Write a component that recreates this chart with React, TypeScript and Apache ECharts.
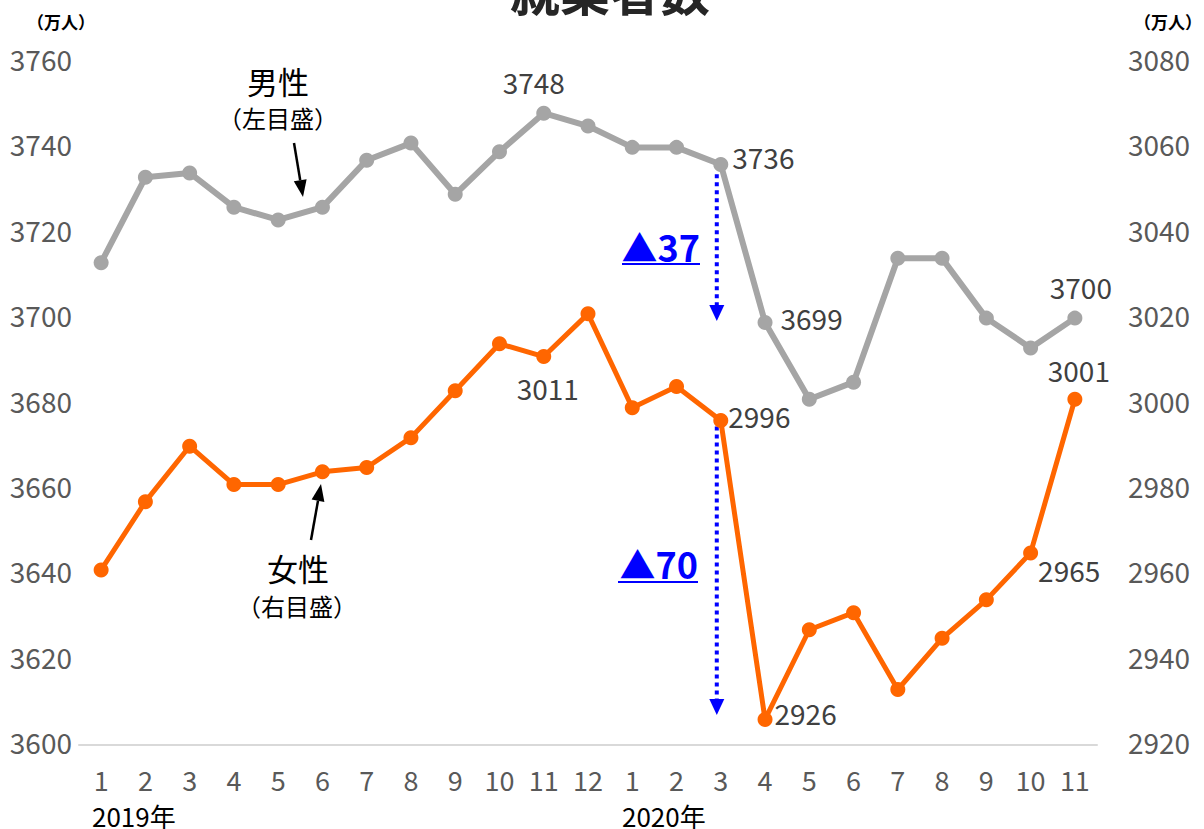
import React, { useEffect, useRef } from 'react';
import * as echarts from 'echarts';

const FONT = '"Noto Sans CJK JP", "Noto Sans", sans-serif';

const categories = ['1', '2', '3', '4', '5', '6', '7', '8', '9', '10', '11', '12', '1', '2', '3', '4', '5', '6', '7', '8', '9', '10', '11'];
const maleValues = [3713, 3733, 3734, 3726, 3723, 3726, 3737, 3741, 3729, 3739, 3748, 3745, 3740, 3740, 3736, 3699, 3681, 3685, 3714, 3714, 3700, 3693, 3700];
const femaleValues = [2961, 2977, 2990, 2981, 2981, 2984, 2985, 2992, 3003, 3014, 3011, 3021, 2999, 3004, 2996, 2926, 2947, 2951, 2933, 2945, 2954, 2965, 3001];
const leftAxisRange = [3600, 3760];
const rightAxisRange = [2920, 3080];
const axisStep = 20;
const yearLabels = ['2019年', '2020年'];
const changeLabels = ['▲37', '▲70'];
// drop annotations: [category index, from value, to value]
const maleDrop = [14, 3733.7, 3699.3];
const femaleDrop = [14, 2994.6, 2927];

const maleLabelPlacement: Record<number, any> = {
  10: { position: 'top', distance: 10, offset: [-10, 0] },
  14: { position: 'right', distance: 4, offset: [0, -7] },
  15: { position: 'right', distance: 8, offset: [0, -4] },
  22: { position: 'top', distance: 10, offset: [6, 0] },
};
const femaleLabelPlacement: Record<number, any> = {
  10: { position: 'bottom', distance: 10, offset: [4, 0] },
  14: { position: 'right', distance: 0, offset: [0, -5] },
  15: { position: 'right', distance: 2, offset: [0, -6] },
  21: { position: 'right', distance: 0, offset: [0, 17] },
  22: { position: 'top', distance: 8, offset: [4, 0] },
};

function withLabels(values: number[], placement: Record<number, any>) {
  return values.map((v, i) =>
    placement[i]
      ? {
          value: v,
          label: {
            show: true,
            ...placement[i],
            color: '#404040',
            fontSize: 28,
            fontFamily: FONT,
          },
        }
      : v
  );
}

function arrowLine(x1: number, y1: number, x2: number, y2: number, color: string, width: number, hl: number, hw: number, dash?: number[]) {
  const dx = x2 - x1;
  const dy = y2 - y1;
  const len = Math.sqrt(dx * dx + dy * dy);
  const ux = dx / len;
  const uy = dy / len;
  const bx = x2 - ux * hl;
  const by = y2 - uy * hl;
  return [
    {
      type: 'line',
      shape: { x1, y1, x2: bx, y2: by },
      style: { stroke: color, lineWidth: width, lineDash: dash || null, lineCap: 'butt' },
    },
    {
      type: 'polygon',
      shape: { points: [[x2, y2], [bx - uy * hw, by + ux * hw], [bx + uy * hw, by - ux * hw]] },
      style: { fill: color },
    },
  ];
}

export default function App() {
  const ref = useRef<HTMLDivElement>(null);
  useEffect(() => {
    const chart = echarts.init(ref.current!, null, { renderer: 'svg' });
    const axisLabelBase = {
      color: '#595959',
      fontSize: 28,
      fontFamily: FONT,
      formatter: (v: number) => String(v),
      verticalAlign: 'bottom',
      lineHeight: 6,
    };
    const baseGraphics: any[] = [
      {
        type: 'text',
        style: { text: '就業者数', x: 610, y: -11, textAlign: 'center', textVerticalAlign: 'middle', fontSize: 50, fontWeight: 'bold', fontFamily: FONT, fill: '#262626' },
      },
      {
        type: 'text',
        style: { text: '（万人）', x: 61, y: 21, textAlign: 'center', textVerticalAlign: 'middle', fontSize: 17, fontWeight: 'bold', fontFamily: FONT, fill: '#000' },
      },
      {
        type: 'text',
        style: { text: '（万人）', x: 1168, y: 21, textAlign: 'center', textVerticalAlign: 'middle', fontSize: 17, fontWeight: 'bold', fontFamily: FONT, fill: '#000' },
      },
      {
        type: 'text',
        style: { text: yearLabels[0], x: 92, y: 815, textAlign: 'left', textVerticalAlign: 'middle', fontSize: 26, fontFamily: FONT, fill: '#000' },
      },
      {
        type: 'text',
        style: { text: yearLabels[1], x: 622, y: 815, textAlign: 'left', textVerticalAlign: 'middle', fontSize: 26, fontFamily: FONT, fill: '#000' },
      },
      {
        type: 'text',
        style: { text: '男性', x: 278, y: 80, textAlign: 'center', textVerticalAlign: 'middle', fontSize: 31, fontFamily: FONT, fill: '#000' },
      },
      {
        type: 'text',
        style: { text: '（左目盛）', x: 278, y: 117, textAlign: 'center', textVerticalAlign: 'middle', fontSize: 24, fontFamily: FONT, fill: '#000' },
      },
      {
        type: 'text',
        style: { text: '女性', x: 298, y: 567, textAlign: 'center', textVerticalAlign: 'middle', fontSize: 31, fontFamily: FONT, fill: '#000' },
      },
      {
        type: 'text',
        style: { text: '（右目盛）', x: 297, y: 605, textAlign: 'center', textVerticalAlign: 'middle', fontSize: 24, fontFamily: FONT, fill: '#000' },
      },
      ...arrowLine(294, 143, 303, 197, '#000', 2.5, 17, 6.5),
      ...arrowLine(311, 540, 321, 484, '#000', 2.5, 17, 6.5),
      {
        type: 'text',
        style: { text: changeLabels[0], x: 700, y: 246, textAlign: 'right', textVerticalAlign: 'middle', fontSize: 36, fontWeight: 'bold', fontFamily: FONT, fill: '#0000FF' },
      },
      { type: 'line', shape: { x1: 622, y1: 264, x2: 700, y2: 264 }, style: { stroke: '#0000FF', lineWidth: 2 } },
      {
        type: 'text',
        style: { text: changeLabels[1], x: 698, y: 563, textAlign: 'right', textVerticalAlign: 'middle', fontSize: 36, fontWeight: 'bold', fontFamily: FONT, fill: '#0000FF' },
      },
      { type: 'line', shape: { x1: 618, y1: 582, x2: 698, y2: 582 }, style: { stroke: '#0000FF', lineWidth: 2 } },
    ];
    const option: any = {
      animation: false,
      backgroundColor: '#ffffff',
      grid: { left: 79, right: 107, top: 62, bottom: 84, containLabel: false },
      xAxis: {
        type: 'category',
        data: categories,
        boundaryGap: true,
        axisLine: { show: true, lineStyle: { color: '#D9D9D9', width: 2 } },
        axisTick: { show: false },
        axisLabel: { color: '#595959', fontSize: 27, fontFamily: FONT, margin: 22, interval: 0, lineHeight: 24 },
        splitLine: { show: false },
      },
      yAxis: [
        {
          type: 'value',
          min: leftAxisRange[0],
          max: leftAxisRange[1],
          interval: axisStep,
          axisLine: { show: false },
          axisTick: { show: false },
          splitLine: { show: false },
          axisLabel: { ...axisLabelBase, margin: 7 },
        },
        {
          type: 'value',
          min: rightAxisRange[0],
          max: rightAxisRange[1],
          interval: axisStep,
          axisLine: { show: false },
          axisTick: { show: false },
          splitLine: { show: false },
          axisLabel: { ...axisLabelBase, margin: 31 },
        },
      ],
      series: [
        {
          name: '男性',
          type: 'line',
          yAxisIndex: 0,
          data: withLabels(maleValues, maleLabelPlacement),
          symbol: 'circle',
          symbolSize: 15,
          lineStyle: { color: '#A5A5A5', width: 6 },
          itemStyle: { color: '#A5A5A5' },
        },
        {
          name: '女性',
          type: 'line',
          yAxisIndex: 1,
          data: withLabels(femaleValues, femaleLabelPlacement),
          symbol: 'circle',
          symbolSize: 15,
          lineStyle: { color: '#FF6600', width: 5 },
          itemStyle: { color: '#FF6600' },
        },
      ],
      graphic: baseGraphics,
    };
    chart.setOption(option);

    const m1 = chart.convertToPixel({ xAxisIndex: 0, yAxisIndex: 0 }, [maleDrop[0], maleDrop[1]]) as number[];
    const m2 = chart.convertToPixel({ xAxisIndex: 0, yAxisIndex: 0 }, [maleDrop[0], maleDrop[2]]) as number[];
    const f1 = chart.convertToPixel({ xAxisIndex: 0, yAxisIndex: 1 }, [femaleDrop[0], femaleDrop[1]]) as number[];
    const f2 = chart.convertToPixel({ xAxisIndex: 0, yAxisIndex: 1 }, [femaleDrop[0], femaleDrop[2]]) as number[];
    const dx = -4;
    chart.setOption({
      graphic: [
        ...baseGraphics,
        ...arrowLine(m1[0] + dx, m1[1], m2[0] + dx, m2[1], '#0000FF', 4, 16, 7.5, [4, 4]),
        ...arrowLine(f1[0] + dx, f1[1], f2[0] + dx, f2[1], '#0000FF', 4, 16, 7.5, [4, 4]),
      ],
    });
    return () => chart.dispose();
  }, []);
  return (
    <div
      ref={ref}
      style={{ position: 'fixed', left: 0, top: 0, width: 1204, height: 829, background: '#fff' }}
    />
  );
}
